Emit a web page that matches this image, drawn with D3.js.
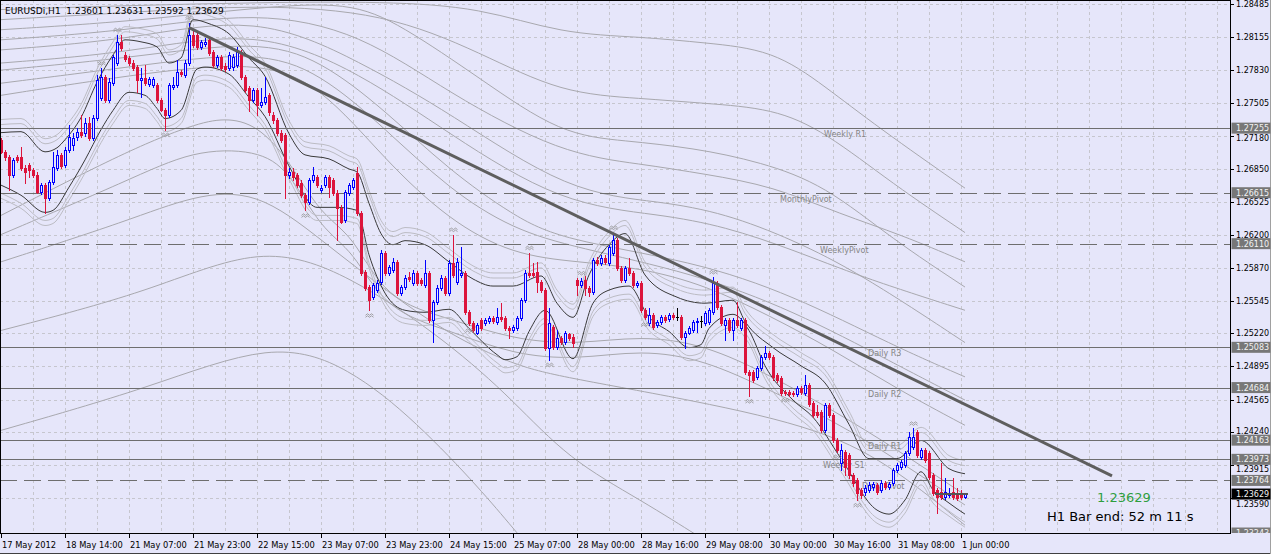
<!DOCTYPE html>
<html lang="en">
<head>
<meta charset="UTF-8">
<title>EURUSDi,H1</title>
<script src="https://d3js.org/d3.v7.min.js"></script>
<style>
  html, body { margin: 0; padding: 0; background: #fff; }
  svg { display: block; font-family: 'DejaVu Sans', sans-serif; }
</style>
</head>
<body>
<svg width="1275" height="556"></svg>
<script>
// hourly bars, 17 May 22:00 .. 1 Jun 01:00 (bar index = position on the time axis)
const opens = [
 1.2714,1.2702,1.2697,1.2679,1.2697,1.2697,1.2686,1.2689,1.2684,1.2679,
 1.2662,1.2669,1.2656,1.2672,1.2686,1.2699,1.2689,1.2704,1.2709,1.2717,
 1.2722,1.2721,1.2731,1.2716,1.2736,1.2755,1.2776,1.2753,1.2770,1.2790,
 1.2811,1.2798,1.2795,1.2790,1.2786,1.2773,1.2775,1.2769,1.2768,1.2768,
 1.2753,1.2743,1.2739,1.2766,1.2768,1.2781,1.2778,1.2790,1.2818,1.2818,
 1.2806,1.2809,1.2813,1.2801,1.2788,1.2796,1.2787,1.2785,1.2786,1.2788,
 1.2801,1.2776,1.2765,1.2753,1.2763,1.2748,1.2751,1.2758,1.2739,1.2734,
 1.2721,1.2719,1.2679,1.2682,1.2679,1.2671,1.2659,1.2652,1.2674,1.2677,
 1.2664,1.2669,1.2677,1.2674,1.2661,1.2646,1.2634,1.2661,1.2667,1.2681,
 1.2641,1.2583,1.2568,1.2558,1.2565,1.2573,1.2602,1.2582,1.2585,1.2593,
 1.2562,1.2568,1.2578,1.2572,1.2582,1.2575,1.2570,1.2582,1.2535,1.2553,
 1.2567,1.2577,1.2562,1.2592,1.2573,1.2580,1.2582,1.2543,1.2532,1.2522,
 1.2535,1.2532,1.2534,1.2537,1.2533,1.2538,1.2537,1.2527,1.2525,1.2527,
 1.2537,1.2555,1.2582,1.2582,1.2583,1.2573,1.2565,1.2508,1.2528,1.2509,
 1.2518,1.2514,1.2521,1.2519,1.2575,1.2570,1.2575,1.2567,1.2563,1.2595,
 1.2592,1.2597,1.2592,1.2602,1.2615,1.2587,1.2575,1.2587,1.2582,1.2570,
 1.2572,1.2545,1.2532,1.2540,1.2530,1.2533,1.2538,1.2536,1.2540,1.2538,
 1.2538,1.2519,1.2522,1.2525,1.2533,1.2534,1.2532,1.2533,1.2543,1.2572,
 1.2548,1.2530,1.2535,1.2525,1.2535,1.2527,1.2535,1.2484,1.2484,1.2479,
 1.2488,1.2499,1.2503,1.2499,1.2481,1.2478,1.2464,1.2464,1.2463,1.2462,
 1.2468,1.2463,1.2471,1.2453,1.2444,1.2444,1.2426,1.2451,1.2441,1.2416,
 1.2394,1.2405,1.2402,1.2382,1.2377,1.2367,1.2365,1.2367,1.2370,1.2372,
 1.2367,1.2374,1.2370,1.2374,1.2387,1.2390,1.2392,1.2404,1.2410,1.2424,
 1.2400,1.2407,1.2404,1.2382,1.2367,1.2365,1.2360,1.2362,1.2365,1.2364,
 1.2362,1.23601
];
const highs = [
 1.2716,1.2704,1.2699,1.2696,1.2699,1.2707,1.2689,1.2691,1.2686,1.2682,
 1.2671,1.2671,1.2674,1.2702,1.2704,1.2701,1.2707,1.2729,1.2721,1.2726,
 1.2739,1.2736,1.2737,1.2739,1.2778,1.2785,1.2778,1.2775,1.2798,1.2818,
 1.2818,1.2801,1.2797,1.2793,1.2788,1.2785,1.2788,1.2776,1.2776,1.2770,
 1.2755,1.2745,1.2770,1.2776,1.2793,1.2783,1.2793,1.2830,1.2823,1.2820,
 1.2813,1.2815,1.2815,1.2803,1.2798,1.2798,1.2790,1.2801,1.2799,1.2806,
 1.2803,1.2778,1.2767,1.2765,1.2765,1.2765,1.2776,1.2760,1.2741,1.2736,
 1.2724,1.2721,1.2686,1.2686,1.2681,1.2674,1.2661,1.2676,1.2687,1.2679,
 1.2669,1.2679,1.2679,1.2676,1.2664,1.2649,1.2664,1.2671,1.2676,1.2687,
 1.2643,1.2585,1.2570,1.2572,1.2575,1.2605,1.2604,1.2590,1.2597,1.2595,
 1.2570,1.2580,1.2583,1.2585,1.2584,1.2577,1.2595,1.2584,1.2555,1.2570,
 1.2580,1.2579,1.2595,1.2620,1.2597,1.2608,1.2584,1.2545,1.2534,1.2532,
 1.2537,1.2537,1.2539,1.2539,1.2547,1.2552,1.2539,1.2529,1.2530,1.2539,
 1.2557,1.2585,1.2602,1.2592,1.2593,1.2575,1.2567,1.2547,1.2530,1.2525,
 1.2520,1.2524,1.2522,1.2521,1.2577,1.2577,1.2579,1.2569,1.2597,1.2598,
 1.2600,1.2600,1.2610,1.2622,1.2617,1.2589,1.2589,1.2597,1.2584,1.2574,
 1.2574,1.2547,1.2547,1.2542,1.2535,1.2540,1.2540,1.2542,1.2542,1.2547,
 1.2540,1.2524,1.2529,1.2535,1.2537,1.2539,1.2544,1.2547,1.2578,1.2574,
 1.2550,1.2537,1.2537,1.2537,1.2553,1.2537,1.2537,1.2486,1.2486,1.2490,
 1.2501,1.2510,1.2505,1.2501,1.2483,1.2480,1.2466,1.2466,1.2465,1.2470,
 1.2470,1.2481,1.2473,1.2455,1.2451,1.2446,1.2453,1.2453,1.2443,1.2418,
 1.2412,1.2407,1.2404,1.2384,1.2379,1.2369,1.2372,1.2375,1.2375,1.2374,
 1.2377,1.2376,1.2375,1.2389,1.2394,1.2397,1.2406,1.2424,1.2428,1.2426,
 1.2409,1.2409,1.2406,1.2384,1.2369,1.2394,1.2379,1.2369,1.2379,1.2369,
 1.2367,1.23631
];
const lows = [
 1.2701,1.2694,1.2664,1.2677,1.2692,1.2684,1.2671,1.2677,1.2677,1.2661,
 1.2660,1.2641,1.2654,1.2670,1.2684,1.2686,1.2687,1.2702,1.2704,1.2714,
 1.2717,1.2718,1.2714,1.2714,1.2734,1.2753,1.2751,1.2751,1.2768,1.2788,
 1.2803,1.2792,1.2788,1.2783,1.2761,1.2756,1.2768,1.2767,1.2766,1.2751,
 1.2742,1.2724,1.2737,1.2764,1.2766,1.2777,1.2776,1.2788,1.2806,1.2804,
 1.2804,1.2807,1.2798,1.2786,1.2786,1.2783,1.2782,1.2783,1.2783,1.2786,
 1.2774,1.2761,1.2742,1.2751,1.2739,1.2746,1.2749,1.2739,1.2731,1.2719,
 1.2712,1.2656,1.2676,1.2674,1.2667,1.2657,1.2644,1.2650,1.2672,1.2667,
 1.2662,1.2667,1.2657,1.2659,1.2615,1.2631,1.2632,1.2659,1.2665,1.2639,
 1.2580,1.2565,1.2545,1.2556,1.2563,1.2571,1.2580,1.2580,1.2583,1.2560,
 1.2560,1.2566,1.2574,1.2570,1.2570,1.2570,1.2568,1.2533,1.2514,1.2551,
 1.2565,1.2560,1.2560,1.2578,1.2571,1.2578,1.2541,1.2530,1.2523,1.2521,
 1.2525,1.2530,1.2532,1.2532,1.2531,1.2534,1.2525,1.2518,1.2523,1.2525,
 1.2535,1.2553,1.2578,1.2578,1.2563,1.2563,1.2506,1.2496,1.2507,1.2507,
 1.2512,1.2512,1.2516,1.2509,1.2560,1.2568,1.2560,1.2559,1.2561,1.2590,
 1.2590,1.2591,1.2590,1.2600,1.2585,1.2573,1.2573,1.2580,1.2568,1.2568,
 1.2543,1.2536,1.2530,1.2526,1.2528,1.2531,1.2533,1.2534,1.2536,1.2535,
 1.2517,1.2508,1.2521,1.2523,1.2523,1.2528,1.2530,1.2531,1.2541,1.2546,
 1.2530,1.2516,1.2523,1.2516,1.2528,1.2525,1.2482,1.2460,1.2474,1.2477,
 1.2486,1.2497,1.2497,1.2476,1.2474,1.2461,1.2461,1.2460,1.2460,1.2460,
 1.2462,1.2461,1.2450,1.2439,1.2439,1.2424,1.2424,1.2439,1.2414,1.2405,
 1.2387,1.2382,1.2379,1.2371,1.2357,1.2359,1.2362,1.2365,1.2367,1.2363,
 1.2365,1.2368,1.2368,1.2372,1.2385,1.2388,1.2390,1.2402,1.2408,1.2400,
 1.2398,1.2395,1.2378,1.2362,1.2344,1.2358,1.2358,1.2360,1.2358,1.2357,
 1.2358,1.23592
];
const closes = [
 1.2702,1.2697,1.2679,1.2694,1.2694,1.2686,1.2682,1.2684,1.2679,1.2662,
 1.2669,1.2656,1.2672,1.2687,1.2699,1.2688,1.2704,1.2717,1.2716,1.2722,
 1.2719,1.2731,1.2716,1.2736,1.2773,1.2776,1.2753,1.2771,1.2796,1.2811,
 1.2805,1.2794,1.2790,1.2785,1.2773,1.2775,1.2770,1.2774,1.2774,1.2753,
 1.2743,1.2739,1.2768,1.2768,1.2781,1.2779,1.2790,1.2818,1.2808,1.2806,
 1.2811,1.2811,1.2800,1.2788,1.2796,1.2785,1.2784,1.2798,1.2796,1.2801,
 1.2776,1.2763,1.2753,1.2763,1.2748,1.2751,1.2756,1.2741,1.2734,1.2721,
 1.2714,1.2679,1.2682,1.2677,1.2669,1.2659,1.2652,1.2674,1.2679,1.2669,
 1.2666,1.2677,1.2667,1.2661,1.2646,1.2632,1.2662,1.2669,1.2674,1.2641,
 1.2582,1.2567,1.2555,1.2570,1.2572,1.2602,1.2582,1.2588,1.2593,1.2562,
 1.2568,1.2577,1.2576,1.2582,1.2572,1.2572,1.2582,1.2535,1.2553,1.2567,
 1.2577,1.2562,1.2592,1.2580,1.2593,1.2582,1.2543,1.2532,1.2525,1.2530,
 1.2527,1.2535,1.2537,1.2534,1.2538,1.2536,1.2527,1.2525,1.2528,1.2537,
 1.2555,1.2582,1.2580,1.2580,1.2573,1.2565,1.2508,1.2532,1.2509,1.2518,
 1.2514,1.2522,1.2518,1.2513,1.2570,1.2574,1.2567,1.2563,1.2595,1.2592,
 1.2597,1.2593,1.2608,1.2615,1.2587,1.2575,1.2587,1.2582,1.2570,1.2572,
 1.2545,1.2538,1.2540,1.2528,1.2533,1.2538,1.2535,1.2540,1.2538,1.2538,
 1.2519,1.2522,1.2527,1.2533,1.2534,1.2534,1.2542,1.2545,1.2572,1.2548,
 1.2532,1.2535,1.2525,1.2535,1.2530,1.2535,1.2484,1.2481,1.2476,1.2488,
 1.2499,1.2503,1.2499,1.2479,1.2476,1.2463,1.2463,1.2462,1.2462,1.2468,
 1.2464,1.2471,1.2452,1.2441,1.2441,1.2426,1.2451,1.2441,1.2416,1.2407,
 1.2407,1.2390,1.2382,1.2374,1.2364,1.2362,1.2369,1.2372,1.2373,1.2365,
 1.2374,1.2370,1.2373,1.2387,1.2392,1.2395,1.2404,1.2419,1.2419,1.2402,
 1.2407,1.2397,1.2380,1.2364,1.2360,1.2360,1.2365,1.2364,1.2360,1.2359,
 1.2360,1.23629
];

const timeLabels = ["17 May 2012","18 May 14:00","21 May 07:00","21 May 23:00","22 May 15:00",
  "23 May 07:00","23 May 23:00","24 May 15:00","25 May 07:00","28 May 00:00","28 May 16:00",
  "29 May 08:00","30 May 00:00","30 May 16:00","31 May 08:00","1 Jun 00:00"];
const timeLabelBars = [0,16,32,48,64,80,96,112,128,144,160,176,192,208,224,240];

const priceTicks = [1.28485,1.28155,1.27830,1.27505,1.27180,1.26850,1.26525,1.26200,
  1.25870,1.25545,1.25220,1.24895,1.24565,1.24240,1.23915,1.23590];
const priceMin = 1.23243, priceMax = 1.28485;

// pivot levels
const pivotNames  = ["Weekly R1","MonthlyPivot","WeeklyPivot","Daily R3","Daily R2","Daily R1","Weekly S1","Daily Pivot"];
const pivotPrices = [1.27255,1.26615,1.26110,1.25083,1.24684,1.24163,1.23973,1.23764];
const pivotDashed = [false,true,true,false,false,false,false,true];

// short-period bands (dark), sampled as [bar, price]
const bandUpper = [[0,1.2721],[5,1.2722],[11,1.2702],[14,1.2706],[16,1.2714],[20,1.2736],[24,1.2771],
  [28,1.2798],[31,1.2813],[35,1.2811],[39,1.2806],[42,1.2790],[45,1.2795],[48,1.2833],[52,1.2829],
  [57,1.2819],[62,1.2795],[66,1.2777],[72,1.2720],[76,1.2699],[82,1.2695],[87,1.2685],[89,1.2682],
  [92,1.2651],[95,1.2621],[98,1.2610],[101,1.2614],[106,1.2610],[112,1.2593],[118,1.2576],[123,1.2569],
  [128,1.2569],[135,1.2579],[139,1.2552],[143,1.2538],[147,1.2580],[152,1.2610],[156,1.2621],[161,1.2580],
  [169,1.2558],[176,1.2552],[183,1.2555],[186,1.2534],[193,1.2508],[200,1.2490],[206,1.2473],[212,1.2432],
  [217,1.2398],[224,1.2398],[230,1.2416],[237,1.2388],[241,1.2383]];
const bandLower = [[0,1.2669],[5,1.2659],[11,1.2642],[13,1.2644],[17,1.2667],[21,1.2694],[25,1.2724],
  [28,1.2743],[32,1.2761],[36,1.2758],[39,1.2745],[41,1.2735],[45,1.2743],[49,1.2784],[51,1.2786],
  [57,1.2779],[62,1.2756],[66,1.2737],[72,1.2688],[79,1.2647],[84,1.2647],[89,1.2644],[92,1.2600],
  [96,1.2562],[101,1.2545],[106,1.2543],[112,1.2546],[117,1.2527],[124,1.2501],[126,1.2496],[129,1.2499],
  [132,1.2524],[136,1.2545],[143,1.2497],[148,1.2552],[152,1.2565],[157,1.2569],[162,1.2538],[167,1.2524],
  [172,1.2508],[175,1.2511],[177,1.2527],[183,1.2541],[187,1.2525],[191,1.2490],[198,1.2456],[203,1.2439],
  [210,1.2398],[219,1.2347],[222,1.2343],[226,1.2357],[230,1.2385],[233,1.2367],[237,1.2354],[241,1.2343]];
const ribbonGaps = [0.0008, 0.0013];

// long-period envelopes (light grey), sampled as [bar, price]
const slowUpper1 = [[0,1.2843],[32,1.2847],[64,1.2850],[96,1.2851],[120,1.2845],[140,1.2819],[160,1.2816],
  [176,1.2810],[193,1.2803],[206,1.2767],[219,1.2727],[241,1.2666]];
const slowUpper2 = [[0,1.2823],[32,1.2831],[64,1.2845],[87,1.2851],[100,1.2828],[120,1.2774],[140,1.2719],
  [156,1.2713],[173,1.2706],[190,1.2692],[206,1.2669],[223,1.2615],[241,1.2568]];
const slowUpper3 = [[0,1.2803],[32,1.2813],[64,1.2839],[90,1.2791],[112,1.2741],[142,1.2661],[165,1.2653],
  [181,1.2641],[198,1.2615],[215,1.2581],[241,1.2513]];
const slowUpper4 = [[0,1.2783],[32,1.2795],[64,1.2813],[80,1.2793],[96,1.2743],[112,1.2684],[128,1.2639],
  [140,1.2615],[173,1.2594],[198,1.2560],[223,1.2510],[241,1.2479]];
const slowUpper5 = [[0,1.2758],[32,1.2778],[64,1.2793],[80,1.2768],[96,1.2694],[112,1.2634],[128,1.2600],
  [144,1.2593],[160,1.2587],[176,1.2570],[192,1.2540],[208,1.2506],[224,1.2467],[241,1.2431]];
const slowUpper6 = [[0,1.2833],[32,1.2840],[64,1.2848],[96,1.2840],[120,1.2800],[140,1.2760],[160,1.2755],
  [176,1.2750],[193,1.2745],[206,1.2722],[223,1.2670],[241,1.2622]];
const slowUpper7 = [[0,1.2813],[32,1.2822],[64,1.2842],[90,1.2820],[112,1.2760],[140,1.2700],[160,1.2690],
  [176,1.2680],[193,1.2668],[210,1.2640],[225,1.2620],[241,1.2593]];
const slowUpper8 = [[0,1.2790],[32,1.2800],[64,1.2825],[90,1.2780],[112,1.2720],[140,1.2650],[165,1.2640],
  [181,1.2628],[198,1.2605],[215,1.2578],[241,1.2545]];
const slowUpper9 = [[0,1.2770],[32,1.2786],[64,1.2803],[80,1.2780],[96,1.2725],[112,1.2665],[128,1.2625],
  [144,1.2607],[173,1.2582],[198,1.2545],[223,1.2493],[241,1.2456]];
const slowLower1 = [[0,1.2426],[37,1.2468],[68,1.2515],[87,1.2489],[104,1.2434],[120,1.2367],[128,1.2329],[136,1.2292]];
const slowLower2 = [[0,1.2525],[37,1.2563],[65,1.2611],[87,1.2581],[112,1.2513],[128,1.2456],[142,1.2397],
  [160,1.2357],[176,1.2317]];
const slowLower3 = [[0,1.2593],[32,1.2634],[48,1.2659],[64,1.2664],[80,1.2615],[96,1.2565],[112,1.2521],
  [128,1.2491],[140,1.2479],[173,1.2456],[206,1.2427],[224,1.2387],[241,1.2332]];
const slowLower4 = [[0,1.2620],[32,1.2674],[48,1.2704],[64,1.2704],[72,1.2684],[80,1.2625],[88,1.2605],
  [96,1.2545],[112,1.2525],[128,1.2501],[144,1.2496],[160,1.2506],[176,1.2496],[192,1.2466],[208,1.2436],
  [224,1.2397],[241,1.2352]];
const slowLower5 = [[0,1.2639],[32,1.2704],[48,1.2729],[56,1.2736],[64,1.2729],[72,1.2694],[80,1.2639],
  [88,1.2620],[96,1.2555],[112,1.2537],[128,1.2516],[144,1.2511],[160,1.2520],[176,1.2511],[192,1.2481],
  [208,1.2446],[224,1.2407],[241,1.2362]];

// trend line and fractal bars
const trendPoints = [[47,1.2825],[277.75,1.2381]];
const fractalUp = [25,29,47,113,132,145,153,178,228];
const fractalDown = [41,76,92,117,137,161,187,196,209,214];

const lastPrice = 1.23629;
const headerText = "EURUSDi,H1  1.23601 1.23631 1.23592 1.23629";
const timerText = "H1 Bar end: 52 m 11 s";

// ---------- layout ----------
const plotW = 1230, plotH = 533;
const svg = d3.select("svg");
const x = d3.scaleLinear().domain([0, 307.25]).range([1, 1230]);
const y = d3.scaleLinear().domain([priceMin, priceMax]).range([533, 4]);
const px = b => Math.round(x(b)) + 0.5;
const py = p => Math.round(y(p)) + 0.5;

svg.append("rect").attr("width", 1270).attr("height", 553).attr("fill", "#E6E6FA");
svg.append("line").attr("x1", 0).attr("x2", 1271).attr("y1", 553.5).attr("y2", 553.5).attr("stroke", "#404040");
svg.append("line").attr("x1", 1270.5).attr("x2", 1270.5).attr("y1", 0).attr("y2", 554).attr("stroke", "#A0A0A0");

svg.append("defs").append("clipPath").attr("id", "plot")
  .append("rect").attr("width", plotW).attr("height", plotH);
const g = svg.append("g").attr("clip-path", "url(#plot)");

// grid
g.selectAll(".vgrid").data(d3.range(8, 308, 8)).join("line")
  .attr("x1", px).attr("x2", px).attr("y1", 0).attr("y2", plotH)
  .attr("stroke", "#C6C6CE").attr("stroke-dasharray", "3,3");
g.selectAll(".hgrid").data(priceTicks).join("line")
  .attr("x1", 0).attr("x2", plotW).attr("y1", py).attr("y2", py)
  .attr("stroke", "#C6C6CE").attr("stroke-dasharray", "3,3");

// envelopes
const smooth = d3.line().x(d => x(d[0])).y(d => y(d[1])).curve(d3.curveBasis);
const through = d3.line().x(d => x(d[0])).y(d => y(d[1])).curve(d3.curveMonotoneX);
[slowUpper1, slowUpper2, slowUpper3, slowUpper4, slowUpper5, slowUpper6, slowUpper7, slowUpper8, slowUpper9,
 slowLower1, slowLower2, slowLower3, slowLower4, slowLower5].forEach(s => {
  g.append("path").attr("d", smooth(s)).attr("fill", "none")
    .attr("stroke", "#A8A8AE").attr("stroke-width", 1);
});
ribbonGaps.forEach(gap => {
  g.append("path").attr("d", through(bandUpper.map(d => [d[0], d[1] + gap])))
    .attr("fill", "none").attr("stroke", "#BCBCC4").attr("stroke-width", 1);
  g.append("path").attr("d", through(bandLower.map(d => [d[0], d[1] - gap])))
    .attr("fill", "none").attr("stroke", "#BCBCC4").attr("stroke-width", 1);
});
[bandUpper, bandLower].forEach(s => {
  g.append("path").attr("d", through(s)).attr("fill", "none")
    .attr("stroke", "#3A3A3A").attr("stroke-width", 1);
});

// pivot levels
pivotPrices.forEach((p, k) => {
  g.append("line").attr("x1", 0).attr("x2", plotW).attr("y1", py(p)).attr("y2", py(p))
    .attr("stroke", "#6E6E6E").attr("stroke-width", 1.2)
    .attr("stroke-dasharray", pivotDashed[k] ? "17,7" : null);
});
const pivotLabelBar = [205.75, 194.75, 204.75, 216.75, 216.75, 216.75, 205.5, 215.25];
pivotNames.forEach((n, k) => {
  g.append("text").attr("x", x(pivotLabelBar[k])).attr("y", y(pivotPrices[k]) + 9)
    .attr("font-size", 8).attr("fill", "#858585").text(n);
});

// candles
const bars = closes.map((c, i) => ({i, o: opens[i], h: highs[i], l: lows[i], c}));
const col = d => d.c > d.o ? "#0000FF" : d.c < d.o ? "#DC143C" : "#000000";
const cg = g.append("g").attr("shape-rendering", "crispEdges");
cg.selectAll(".wick").data(bars).join("line")
  .attr("x1", d => px(d.i)).attr("x2", d => px(d.i))
  .attr("y1", d => Math.round(y(d.h))).attr("y2", d => Math.round(y(d.l)) + 1)
  .attr("stroke", col);
cg.selectAll(".body").data(bars.filter(d => d.o !== d.c)).join("rect")
  .attr("x", d => px(d.i) - 1).attr("width", 2)
  .attr("y", d => py(Math.max(d.o, d.c)))
  .attr("height", d => Math.max(1, py(Math.min(d.o, d.c)) - py(Math.max(d.o, d.c))))
  .attr("fill", d => d.c > d.o ? "#E6E6FA" : "#DC143C")
  .attr("stroke", col);
cg.selectAll(".doji").data(bars.filter(d => d.o === d.c)).join("line")
  .attr("x1", d => px(d.i) - 1.5).attr("x2", d => px(d.i) + 1.5)
  .attr("y1", d => py(d.c)).attr("y2", d => py(d.c)).attr("stroke", "#000");

// fractal marks
const mark = (cx, cy) => `M${cx - 4},${cy} l2,-1.5 l2,1.5 l2,-1.5 l2,1.5 M${cx - 4},${cy + 2} l2,-1.5 l2,1.5 l2,-1.5 l2,1.5`;
fractalUp.forEach(b => g.append("path").attr("d", mark(px(b), y(highs[b]) - 5))
  .attr("fill", "none").attr("stroke", "#8E8E8E").attr("stroke-width", 0.8));
fractalDown.forEach(b => g.append("path").attr("d", mark(px(b), y(lows[b]) + 5))
  .attr("fill", "none").attr("stroke", "#8E8E8E").attr("stroke-width", 0.8));

// trend line and bid stub
g.append("path").attr("d", d3.line().x(d => x(d[0])).y(d => y(d[1]))(trendPoints))
  .attr("stroke", "#5E5E5E").attr("stroke-width", 3).attr("fill", "none");
g.append("line").attr("x1", x(233.5)).attr("x2", x(241.75)).attr("y1", y(lastPrice)).attr("y2", y(lastPrice))
  .attr("stroke", "#555").attr("stroke-width", 2);

// texts inside the plot
svg.append("text").attr("x", 5).attr("y", 13.5).attr("font-size", 9).attr("fill", "#000")
  .style("white-space", "pre").text(headerText);
svg.append("text").attr("x", 1097).attr("y", 502).attr("font-size", 13).attr("fill", "#2E9E3E")
  .text(lastPrice.toFixed(5));
svg.append("text").attr("x", 1047).attr("y", 521).attr("font-size", 13).attr("fill", "#000")
  .text(timerText);

// frame
svg.append("rect").attr("x", 0.5).attr("y", 0.5).attr("width", plotW).attr("height", plotH)
  .attr("fill", "none").attr("stroke", "#000");

// price axis (a tick label that would sit under a level box is nudged just outside it)
const boxPrices = pivotPrices.concat([lastPrice]);
const labelY = p => {
  const yp = y(p);
  const near = boxPrices.map(y).find(yb => Math.abs(yb - yp) < 8.5);
  if (near === undefined) return yp + 3;
  return yp > near ? near + 12.5 : near - 6.5;
};
const ax = svg.append("g");
ax.selectAll(".pt").data(priceTicks).join("line")
  .attr("x1", plotW + 1).attr("x2", plotW + 4).attr("y1", py).attr("y2", py).attr("stroke", "#000");
ax.selectAll(".pl").data(priceTicks).join("text")
  .attr("x", 1236).attr("y", labelY).attr("font-size", 8).attr("fill", "#000")
  .text(d => d.toFixed(5));
svg.append("defs").append("clipPath").attr("id", "axisclip")
  .append("rect").attr("x", plotW + 1).attr("y", 0).attr("width", 40).attr("height", plotH);
const boxes = svg.append("g").attr("clip-path", "url(#axisclip)");
const boxLabel = (p, fill) => {
  boxes.append("rect").attr("x", plotW + 1.5).attr("y", y(p) - 5.5).attr("width", 39).attr("height", 11)
    .attr("fill", fill);
  boxes.append("text").attr("x", 1236).attr("y", y(p) + 3).attr("font-size", 8)
    .attr("fill", "#F2F2F2").text(p.toFixed(5));
};
boxLabel(priceMin, "#7A7A7A");
pivotPrices.forEach(p => boxLabel(p, "#777777"));
boxLabel(lastPrice, "#000000");

// time axis
const tx = svg.append("g");
tx.selectAll(".tt").data(timeLabelBars).join("line")
  .attr("x1", px).attr("x2", px).attr("y1", plotH + 1).attr("y2", plotH + 5).attr("stroke", "#000");
tx.selectAll(".tl").data(timeLabelBars).join("text")
  .attr("x", d => x(d) + 1).attr("y", 548).attr("font-size", 8.3).attr("fill", "#000")
  .text((d, k) => timeLabels[k]);
</script>
</body>
</html>
